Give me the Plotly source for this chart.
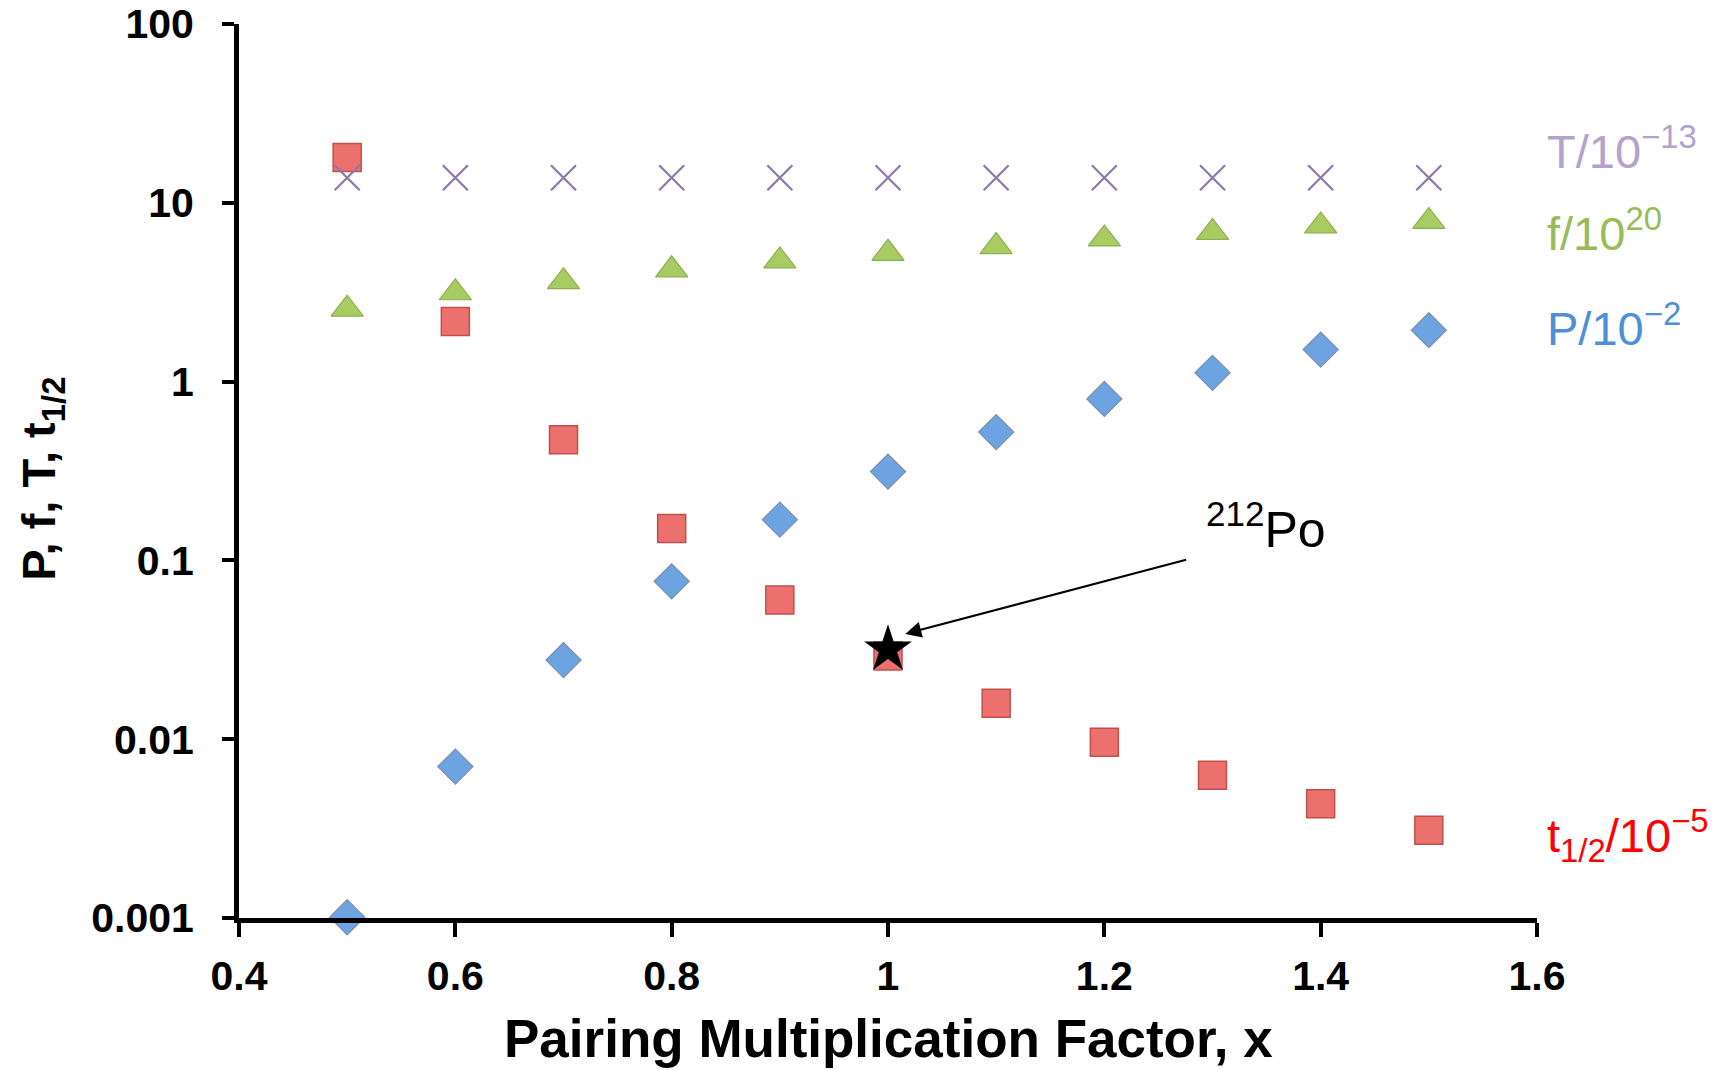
import plotly.graph_objects as go

x_vals = [0.5, 0.6, 0.7, 0.8, 0.9, 1.0, 1.1, 1.2, 1.3, 1.4, 1.5]
T_vals = [13.8, 13.8, 13.8, 13.8, 13.8, 13.8, 13.8, 13.8, 13.8, 13.8, 13.8]
f_vals = [2.54, 3.14, 3.62, 4.22, 4.73, 5.22, 5.69, 6.28, 6.83, 7.43, 7.87]
P_vals = [0.00101, 0.00703, 0.0277, 0.0764, 0.169, 0.314, 0.522, 0.80, 1.12, 1.51, 1.94]
t_vals = [17.9, 2.17, 0.473, 0.151, 0.060, 0.0292, 0.0159, 0.0096, 0.00628, 0.00435, 0.0031]
star_x = [1.0]
star_y = [0.0318]

x_ticks = [0.4, 0.6, 0.8, 1.0, 1.2, 1.4, 1.6]
x_tick_text = ["0.4", "0.6", "0.8", "1", "1.2", "1.4", "1.6"]
y_ticks = [0.001, 0.01, 0.1, 1, 10, 100]
y_tick_text = ["0.001", "0.01", "0.1", "1", "10", "100"]

FONT = "Liberation Sans, Arial, sans-serif"

fig = go.Figure()
fig.add_trace(go.Scatter(x=x_vals, y=t_vals, mode="markers", cliponaxis=False,
                         marker=dict(symbol="square", size=28, color="#EC716E",
                                     line=dict(color="#C0504D", width=1.5))))
fig.add_trace(go.Scatter(x=x_vals, y=P_vals, mode="markers", cliponaxis=False,
                         marker=dict(symbol="diamond", size=27, color="#6EA3E2",
                                     line=dict(color="#7D8FA8", width=1.2))))
fig.add_trace(go.Scatter(x=x_vals, y=f_vals, mode="markers", cliponaxis=False,
                         marker=dict(symbol="triangle-up", size=28, color="#A8CC62",
                                     line=dict(color="#8FAE52", width=1.2))))
fig.add_trace(go.Scatter(x=x_vals, y=T_vals, mode="markers", cliponaxis=False,
                         marker=dict(symbol="x-thin", size=25, color="#8C78AA",
                                     line=dict(color="#8C78AA", width=2.2))))
fig.add_trace(go.Scatter(x=star_x, y=star_y, mode="markers", cliponaxis=False,
                         marker=dict(symbol="star", size=36, color="black",
                                     line=dict(width=0))))

annos = [
    dict(text="T/10<sup>\u221213</sup>", color="#B3A2CC", y=1.307),
    dict(text="f/10<sup>20</sup>", color="#9BBB59", y=0.847),
    dict(text="P/10<sup>\u22122</sup>", color="#4F8FD8", y=0.319),
    dict(text="t<sub>1/2</sub>/10<sup>\u22125</sup>", color="#FF0000", y=-2.54),
]
for a in annos:
    fig.add_annotation(text=a["text"], xref="paper", yref="y", x=1.006, y=a["y"],
                       xanchor="left", yanchor="middle", showarrow=False,
                       font=dict(family=FONT, size=47, color=a["color"]))

# 212Po label and arrow
fig.add_annotation(text="<sup>212</sup>Po", xref="x", yref="y", x=1.292, y=-0.81,
                   xanchor="left", yanchor="middle", showarrow=False,
                   font=dict(family=FONT, size=50, color="black"))
fig.add_annotation(text="", xref="x", yref="y", x=1.016, y=-1.411,
                   axref="x", ayref="y", ax=1.277, ay=-0.994,
                   showarrow=True, arrowhead=2, arrowsize=1.6, arrowwidth=2,
                   arrowcolor="black")

# axis titles
fig.add_annotation(text="P, f, T, t<sub>1/2</sub>", xref="paper", yref="paper",
                   x=-0.152, y=0.491, textangle=-90, xanchor="center", yanchor="middle",
                   showarrow=False, font=dict(family=FONT, size=47, color="black", weight="bold"))
fig.add_annotation(text="Pairing Multiplication Factor, x", xref="paper", yref="paper",
                   x=0.5, y=-0.135, xanchor="center", yanchor="middle",
                   showarrow=False, font=dict(family=FONT, size=53, color="black", weight="bold"))

fig.update_layout(
    width=1719, height=1070,
    margin=dict(l=239, r=182, t=24, b=152),
    paper_bgcolor="white", plot_bgcolor="white",
    showlegend=False,
    xaxis=dict(range=[0.4, 1.6], tickvals=x_ticks, ticktext=x_tick_text, automargin=False,
               showgrid=False, zeroline=False, showline=True, linecolor="black", linewidth=5,
               ticks="outside", ticklen=14, tickwidth=4, tickcolor="black",
               ticklabelstandoff=4,
               tickfont=dict(family=FONT, size=41, color="black", weight="bold")),
    yaxis=dict(type="log", range=[-3, 2], tickvals=y_ticks, ticktext=y_tick_text, automargin=False,
               showgrid=False, zeroline=False, showline=True, linecolor="black", linewidth=5,
               ticks="outside", ticklen=12, tickwidth=4, tickcolor="black",
               ticklabelstandoff=20,
               tickfont=dict(family=FONT, size=41, color="black", weight="bold")),
)

fig.write_html("out.html", config={"displayModeBar": False},
               post_script="document.body.style.margin='0';document.body.style.overflow='hidden';")
